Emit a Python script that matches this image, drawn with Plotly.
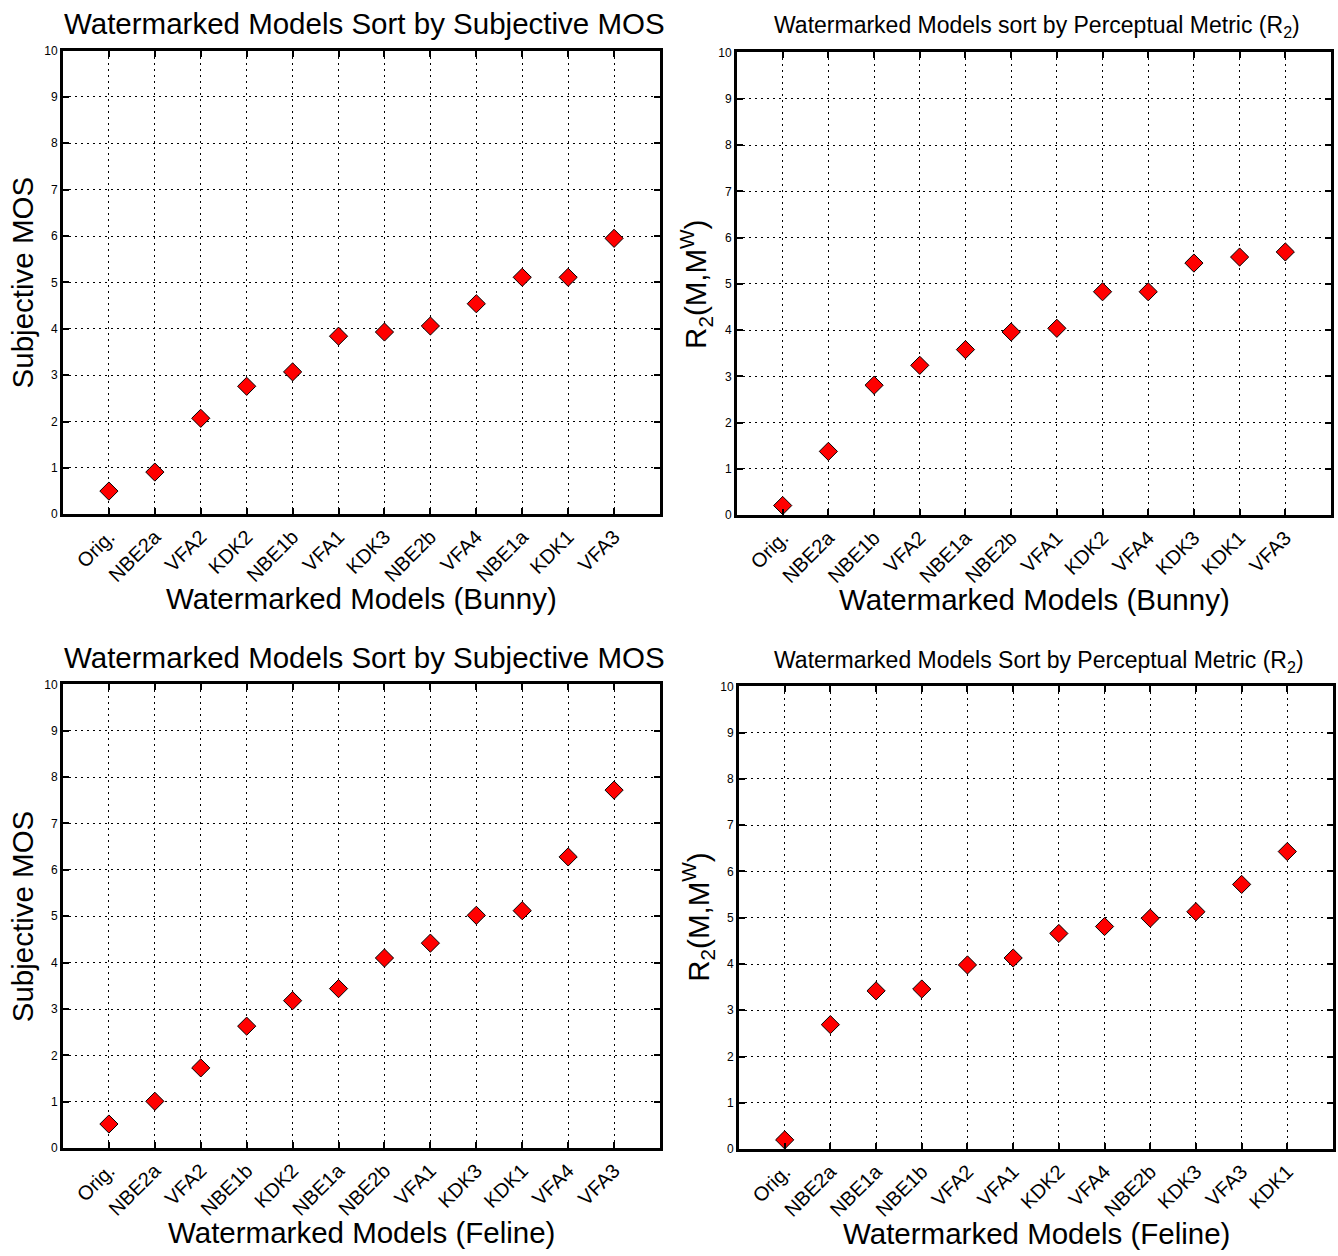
import plotly.graph_objects as go

# ---------------- data ----------------
bunny_mos_labels = ["Orig.", "NBE2a", "VFA2", "KDK2", "NBE1b", "VFA1", "KDK3",
                    "NBE2b", "VFA4", "NBE1a", "KDK1", "VFA3"]
bunny_mos_values = [0.50, 0.91, 2.07, 2.76, 3.07, 3.84, 3.93, 4.06, 4.54, 5.11, 5.11, 5.95]

bunny_r2_labels = ["Orig.", "NBE2a", "NBE1b", "VFA2", "NBE1a", "NBE2b", "VFA1",
                   "KDK2", "VFA4", "KDK3", "KDK1", "VFA3"]
bunny_r2_values = [0.21, 1.38, 2.81, 3.24, 3.58, 3.96, 4.04, 4.83, 4.83, 5.45, 5.58, 5.69]

feline_mos_labels = ["Orig.", "NBE2a", "VFA2", "NBE1b", "KDK2", "NBE1a", "NBE2b",
                     "VFA1", "KDK3", "KDK1", "VFA4", "VFA3"]
feline_mos_values = [0.52, 1.01, 1.73, 2.63, 3.18, 3.44, 4.10, 4.42, 5.02, 5.12, 6.28, 7.72]

feline_r2_labels = ["Orig.", "NBE2a", "NBE1a", "NBE1b", "VFA2", "VFA1", "KDK2",
                    "VFA4", "NBE2b", "KDK3", "VFA3", "KDK1"]
feline_r2_values = [0.20, 2.69, 3.42, 3.46, 3.98, 4.13, 4.66, 4.81, 4.99, 5.13, 5.72, 6.43]

y_ticks = list(range(0, 11))

W, H = 1338, 1256
FONT = "Liberation Sans, Arial, sans-serif"

panels = [
    dict(labels=bunny_mos_labels, values=bunny_mos_values, px=(63, 660), py=(44, 513),
         title="Watermarked Models Sort by Subjective MOS", tsize=29.5, ty=17,
         xtitle="Watermarked Models (Bunny)", ytitle="Subjective MOS"),
    dict(labels=bunny_r2_labels, values=bunny_r2_values, px=(737, 1331), py=(46, 514),
         title="Watermarked Models sort by Perceptual Metric (R<sub>2</sub>)", tsize=23, ty=20,
         xtitle="Watermarked Models (Bunny)", ytitle="R<sub>2</sub>(M,M<sup>W</sup>)"),
    dict(labels=feline_mos_labels, values=feline_mos_values, px=(63, 660), py=(685, 1154),
         title="Watermarked Models Sort by Subjective MOS", tsize=29.5, ty=658,
         xtitle="Watermarked Models (Feline)", ytitle="Subjective MOS"),
    dict(labels=feline_r2_labels, values=feline_r2_values, px=(739, 1333), py=(687, 1155),
         title="Watermarked Models Sort by Perceptual Metric (R<sub>2</sub>)", tsize=23, ty=662,
         xtitle="Watermarked Models (Feline)", ytitle="R<sub>2</sub>(M,M<sup>W</sup>)"),
]

fig = go.Figure()
annotations = []
layout_axes = {}
DOT = "2px,4px"

for i, p in enumerate(panels, start=1):
    xa = "x" if i == 1 else f"x{i}"
    ya = "y" if i == 1 else f"y{i}"
    xs = list(range(1, len(p["labels"]) + 1))
    fig.add_trace(go.Scatter(
        x=xs, y=p["values"], mode="markers", xaxis=xa, yaxis=ya,
        marker=dict(symbol="diamond", size=14, color="#ff0000",
                    line=dict(color="black", width=1)),
        showlegend=False, cliponaxis=False))
    x0, x1 = p["px"]
    y0, y1 = p["py"]
    dx = [x0 / W, x1 / W]
    dy = [1 - y1 / H, 1 - y0 / H]
    key = "" if i == 1 else str(i)
    layout_axes["xaxis" + key] = dict(
        domain=dx, range=[0, 13], tickmode="array", tickvals=xs, ticktext=p["labels"],
        tickangle=-45, tickfont=dict(size=20, family=FONT, color="black"),
        showgrid=True, gridcolor="black", griddash=DOT, gridwidth=1.2,
        showline=True, linecolor="black", linewidth=3, mirror="ticks",
        ticks="inside", ticklen=6, tickcolor="black", tickwidth=1.5,
        zeroline=False, anchor=ya, fixedrange=True)
    layout_axes["yaxis" + key] = dict(
        domain=dy, range=[0, 10], tickmode="array", tickvals=y_ticks,
        tickfont=dict(size=12, family=FONT, color="black"),
        showgrid=True, gridcolor="black", griddash=DOT, gridwidth=1.2,
        showline=True, linecolor="black", linewidth=3, mirror="ticks",
        ticks="inside", ticklen=6, tickcolor="black", tickwidth=1.5,
        zeroline=False, anchor=xa, fixedrange=True)
    cx = (x0 + x1) / 2 / W
    annotations.append(dict(text=p["title"], x=(x0 + x1) / 2 / W + 0.002, y=1 - p["ty"] / H,
                            xref="paper", yref="paper", showarrow=False,
                            xanchor="center", yanchor="middle",
                            font=dict(size=p["tsize"], family=FONT, color="black")))
    annotations.append(dict(text=p["xtitle"], x=cx, y=1 - (y1 + 85) / H,
                            xref="paper", yref="paper", showarrow=False,
                            xanchor="center", yanchor="middle",
                            font=dict(size=29.5, family=FONT, color="black")))
    annotations.append(dict(text=p["ytitle"], x=(x0 - 41) / W, y=1 - (y0 + y1) / 2 / H,
                            xref="paper", yref="paper", showarrow=False, textangle=-90,
                            xanchor="center", yanchor="middle",
                            font=dict(size=29.5, family=FONT, color="black")))

fig.update_layout(
    width=W, height=H, margin=dict(l=0, r=0, t=0, b=0),
    paper_bgcolor="white", plot_bgcolor="white",
    annotations=annotations, **layout_axes)

fig.write_html("out.html")
